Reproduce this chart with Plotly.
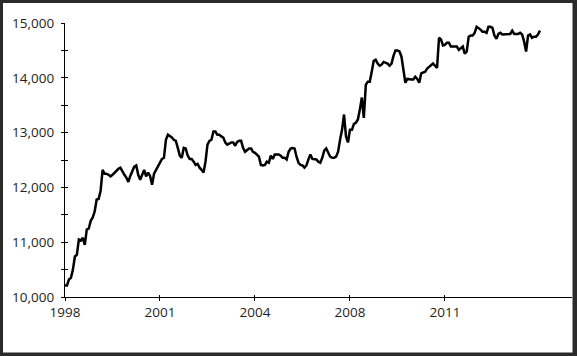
import plotly.graph_objects as go

# Weekly index level, one value per step of the category axis
values = [
    10210, 10210, 10320, 10350, 10500, 10740, 10770, 11050, 11030, 11080,
    10950, 11230, 11250, 11390, 11450, 11560, 11780, 11790, 11940, 12320,
    12250, 12250, 12230, 12200, 12230, 12270, 12290, 12340, 12360, 12290,
    12230, 12180, 12100, 12210, 12290, 12380, 12400, 12230, 12140, 12230,
    12320, 12200, 12270, 12210, 12050, 12250, 12320, 12400, 12470, 12520,
    12540, 12870, 12960, 12940, 12910, 12870, 12850, 12720, 12580, 12540,
    12720, 12710, 12580, 12520, 12520, 12470, 12410, 12430, 12360, 12320,
    12270, 12470, 12780, 12850, 12870, 13020, 13020, 12960, 12960, 12930,
    12910, 12820, 12780, 12800, 12820, 12820, 12760, 12830, 12850, 12850,
    12720, 12650, 12690, 12710, 12710, 12650, 12630, 12600, 12560, 12410,
    12400, 12410, 12470, 12450, 12580, 12520, 12600, 12600, 12600, 12580,
    12540, 12540, 12510, 12650, 12710, 12720, 12710, 12560, 12450, 12410,
    12400, 12360, 12400, 12510, 12600, 12520, 12510, 12510, 12470, 12450,
    12540, 12670, 12710, 12630, 12560, 12540, 12540, 12560, 12650, 12870,
    13050, 13330, 12930, 12820, 13050, 13050, 13160, 13180, 13240, 13420,
    13640, 13270, 13870, 13930, 13930, 14110, 14310, 14330, 14260, 14220,
    14240, 14290, 14280, 14260, 14220, 14260, 14400, 14500, 14500, 14480,
    14390, 14180, 13910, 13980, 13970, 13970, 13970, 14020, 13980, 13910,
    14080, 14090, 14110, 14170, 14200, 14220, 14260, 14220, 14180, 14730,
    14700, 14590, 14600, 14640, 14640, 14570, 14570, 14570, 14570, 14510,
    14550, 14570, 14440, 14480, 14750, 14770, 14770, 14820, 14930, 14910,
    14880, 14840, 14840, 14820, 14930, 14930, 14910, 14770, 14710, 14800,
    14820, 14790, 14790, 14800, 14800, 14800, 14860, 14800, 14800, 14800,
    14820, 14790, 14660, 14480, 14770, 14790, 14730, 14750, 14750, 14790,
    14860,
]
period = list(range(len(values)))

tick_positions = [0, 48, 96, 144, 192]
tick_labels = ["1998", "2001", "2004", "2008", "2011"]
y_ticks = [10000, 11000, 12000, 13000, 14000, 15000]
y_tick_labels = ["10,000", "11,000", "12,000", "13,000", "14,000", "15,000"]

X_RANGE = [0, 256.2]
Y_RANGE = [10000, 15000]

fig = go.Figure()
fig.add_trace(go.Scatter(
    x=period, y=values, mode="lines",
    line=dict(color="#000000", width=2.5),
    hoverinfo="skip", showlegend=False,
))
# transparent copy to carry the inward half of the crossing ticks
fig.add_trace(go.Scatter(
    x=period, y=values, mode="lines", xaxis="x2", yaxis="y2",
    line=dict(color="rgba(0,0,0,0)", width=0),
    hoverinfo="skip", showlegend=False,
))

W, H = 577, 356
L, R, T, B = 65, 5, 23, 59
pw, ph = W - L - R, H - T - B

def px(p):
    return (p - L) / pw

def py(q):
    return (H - B - q) / ph

tickfont = dict(family="Open Sans", size=13.5, color="#1e1e24")

fig.update_layout(
    width=W, height=H,
    margin=dict(l=L, r=R, t=T, b=B, pad=0),
    paper_bgcolor="white", plot_bgcolor="white",
    showlegend=False,
    xaxis=dict(
        range=X_RANGE, tickmode="array", tickvals=tick_positions, ticktext=tick_labels,
        showgrid=False, zeroline=False, showline=True, linecolor="#000", linewidth=1.3,
        ticks="outside", ticklen=3, tickwidth=1.3, tickcolor="#000",
        tickfont=tickfont, ticklabelstandoff=0,
    ),
    yaxis=dict(
        range=Y_RANGE, tickmode="array", tickvals=y_ticks, ticktext=y_tick_labels,
        showgrid=False, zeroline=False, showline=True, linecolor="#000", linewidth=1.3,
        ticks="outside", ticklen=3, tickwidth=1.3, tickcolor="#000",
        minor=dict(dtick=500, tick0=10000, ticks="outside", ticklen=3, tickwidth=1.3, tickcolor="#000"),
        tickfont=tickfont, ticklabelstandoff=4,
    ),
    xaxis2=dict(
        overlaying="x", range=X_RANGE, tickmode="array", tickvals=tick_positions,
        showticklabels=False, showgrid=False, zeroline=False, showline=False,
        ticks="inside", ticklen=2, tickwidth=1.3, tickcolor="#000", anchor="y2",
    ),
    yaxis2=dict(
        overlaying="y", range=Y_RANGE, tickmode="array", tickvals=y_ticks,
        showticklabels=False, showgrid=False, zeroline=False, showline=False,
        ticks="inside", ticklen=3, tickwidth=1.3, tickcolor="#000", side="left", anchor="x2",
        minor=dict(dtick=500, tick0=10000, ticks="inside", ticklen=3, tickwidth=1.3, tickcolor="#000"),
    ),
)

border = "#2b2b2b"
frame = [
    (0, 0, 3, H),          # left
    (0, 0, W, 3),          # top
    (572.5, 0, W, H),      # right
    (0, 352.5, W, H),      # bottom
]
for x0, y0, x1, y1 in frame:
    fig.add_shape(type="rect", xref="paper", yref="paper",
                  x0=px(x0), x1=px(x1), y0=py(y1), y1=py(y0),
                  fillcolor=border, line=dict(width=0), layer="above")

fig.write_html(
    "out.html",
    config={"displayModeBar": False},
    post_script="document.body.style.margin='0';document.body.style.overflow='hidden';",
)
